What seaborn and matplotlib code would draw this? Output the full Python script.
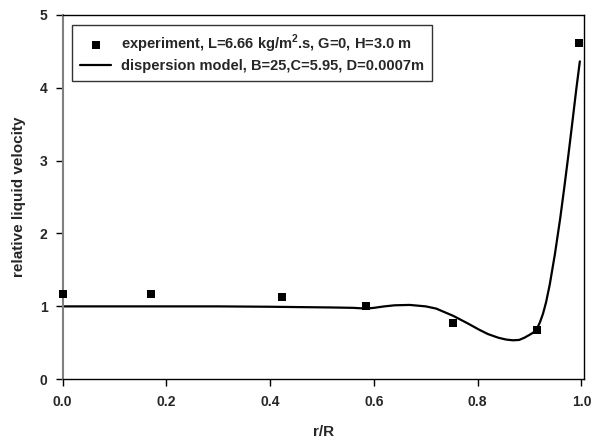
import matplotlib
matplotlib.use("Agg")
import matplotlib.pyplot as plt
import seaborn as sns
import pandas as pd

# experiment data
exp_x = [0.0, 0.171, 0.422, 0.585, 0.753, 0.914, 0.995]
exp_y = [1.17, 1.17, 1.13, 1.0, 0.77, 0.67, 4.61]

# dispersion model curve
mod_x = [0.0, 0.1, 0.2, 0.3, 0.4, 0.46, 0.52, 0.56, 0.585, 0.60, 0.62, 0.64, 0.669,
         0.70, 0.72, 0.753, 0.78, 0.803, 0.82, 0.84, 0.855, 0.868, 0.88, 0.89, 0.90,
         0.907, 0.914, 0.920, 0.926, 0.932, 0.939, 0.949, 0.959, 0.967, 0.975,
         0.983, 0.990, 0.997]
mod_y = [1.0, 1.0, 1.0, 1.0, 0.995, 0.99, 0.985, 0.98, 0.97, 0.98, 1.0, 1.015, 1.02,
         1.0, 0.97, 0.87, 0.77, 0.68, 0.62, 0.57, 0.545, 0.535, 0.54, 0.57, 0.61,
         0.64, 0.69, 0.78, 0.90, 1.06, 1.30, 1.72, 2.20, 2.63, 3.08,
         3.55, 3.97, 4.36]

exp_label = "experiment, L=6.66 kg/m$^{\\mathbf{2}}$.s, G=0, H=3.0 m"
mod_label = "dispersion model, B=25,C=5.95, D=0.0007m"
x_label = "r/R"
y_label = "relative liquid velocity"
x_ticks = [0.0, 0.2, 0.4, 0.6, 0.8, 1.0]
y_ticks = [0, 1, 2, 3, 4, 5]

sns.set_style("white")
plt.rcParams['font.family'] = ['Liberation Sans', 'DejaVu Sans']
plt.rcParams['mathtext.fontset'] = 'custom'
plt.rcParams['mathtext.bf'] = 'Liberation Sans:bold'
plt.rcParams['mathtext.rm'] = 'Liberation Sans'

fig = plt.figure(figsize=(5.96, 4.38), dpi=100)
ax = fig.add_axes([0.1052, 0.134, 0.875, 0.8324])

df_exp = pd.DataFrame({"x": exp_x, "y": exp_y})
df_mod = pd.DataFrame({"x": mod_x, "y": mod_y})

sns.lineplot(data=df_mod, x="x", y="y", ax=ax, color="black", linewidth=1.6,
             label=mod_label, sort=False, estimator=None)
sns.scatterplot(data=df_exp, x="x", y="y", ax=ax, color="black", marker="s",
                s=38, edgecolor="black", linewidth=0, label=exp_label, zorder=5,
                clip_on=False)

ax.set_xlim(0, 1.0054)
ax.set_ylim(0, 5)
ax.set_xticks(x_ticks)
ax.set_yticks(y_ticks)
ax.set_xticklabels([f"{t:.1f}" for t in x_ticks], fontweight="bold", fontsize=10)
ax.set_yticklabels([str(t) for t in y_ticks], fontweight="bold", fontsize=10)
ax.set_xlabel(x_label, fontweight="bold", fontsize=11, labelpad=12)
ax.set_ylabel(y_label, fontweight="bold", fontsize=11, labelpad=10)

ax.tick_params(axis="both", direction="out", length=5, width=1, color="black",
               bottom=True, left=True, pad=6)
for side in ["top", "right", "bottom"]:
    ax.spines[side].set_color("black")
    ax.spines[side].set_linewidth(1.0)
ax.spines["left"].set_color("#808080")
ax.spines["left"].set_linewidth(1.5)

handles, labels = ax.get_legend_handles_labels()
order = [1, 0]
leg = ax.legend([handles[i] for i in order], [labels[i] for i in order],
                loc="upper left", bbox_to_anchor=(0.0186, 0.9725),
                borderaxespad=0.0,
                prop={"weight": "bold", "size": 10.5}, frameon=True,
                fancybox=False, edgecolor="black", handlelength=2.1,
                borderpad=0.55, labelspacing=0.3, handletextpad=0.68)
leg.get_frame().set_linewidth(1.0)

fig.savefig("out.png", dpi=100)
